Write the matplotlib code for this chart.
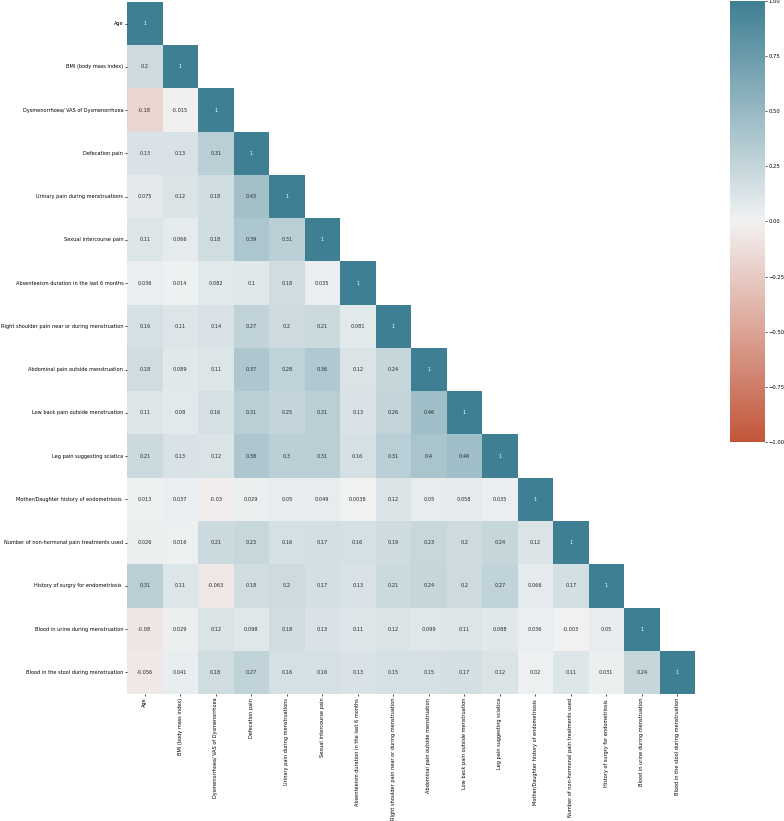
import numpy as np
import matplotlib
matplotlib.use("Agg")
import matplotlib.pyplot as plt
import seaborn as sns

labels = [
    "Age",
    "BMI (body mass index)",
    "Dysmenorrhoea/ VAS of Dysmenorrhoea",
    "Defecation pain",
    "Urinary pain during menstruations",
    "Sexual intercourse pain",
    "Absenteeism duration in the last 6 months",
    "Right shoulder pain near or during menstruation",
    "Abdominal pain outside menstruation",
    "Low back pain outside menstruation",
    "Leg pain suggesting sciatica",
    "Mother/Daughter history of endometriosis ",
    "Number of non-hormonal pain treatments used",
    "History of surgry for endometriosis ",
    "Blood in urine during menstruation",
    "Blood in the stool during menstruation",
]

row_age = [1]
row_bmi = [0.2, 1]
row_dysm = [-0.18, -0.015, 1]
row_defec = [0.13, 0.13, 0.31, 1]
row_urin = [0.075, 0.12, 0.18, 0.43, 1]
row_sex = [0.11, 0.066, 0.18, 0.39, 0.31, 1]
row_abs = [0.036, 0.014, 0.082, 0.1, 0.18, 0.035, 1]
row_shoulder = [0.16, 0.11, 0.14, 0.27, 0.2, 0.21, 0.081, 1]
row_abdo = [0.18, 0.089, 0.11, 0.37, 0.28, 0.36, 0.12, 0.24, 1]
row_back = [0.11, 0.08, 0.16, 0.31, 0.25, 0.31, 0.13, 0.26, 0.46, 1]
row_leg = [0.21, 0.13, 0.12, 0.38, 0.3, 0.31, 0.16, 0.31, 0.4, 0.46, 1]
row_mother = [0.013, 0.037, -0.03, 0.029, 0.05, 0.049, 0.0038, 0.12, 0.05, 0.058, 0.035, 1]
row_treat = [0.026, 0.016, 0.21, 0.23, 0.16, 0.17, 0.16, 0.19, 0.23, 0.2, 0.24, 0.12, 1]
row_surg = [0.31, 0.11, -0.063, 0.18, 0.2, 0.17, 0.13, 0.21, 0.24, 0.2, 0.27, 0.066, 0.17, 1]
row_urine_blood = [-0.08, 0.029, 0.12, 0.098, 0.18, 0.13, 0.11, 0.12, 0.099, 0.11, 0.088, 0.036, -0.003, 0.05, 1]
row_stool_blood = [-0.056, 0.041, 0.18, 0.27, 0.16, 0.16, 0.13, 0.15, 0.15, 0.17, 0.12, 0.02, 0.11, 0.031, 0.24, 1]

rows = [row_age, row_bmi, row_dysm, row_defec, row_urin, row_sex, row_abs,
        row_shoulder, row_abdo, row_back, row_leg, row_mother, row_treat,
        row_surg, row_urine_blood, row_stool_blood]

cbar_ticks = [-1, -0.75, -0.5, -0.25, 0, 0.25, 0.5, 0.75, 1]

n = len(labels)
corr = np.zeros((n, n))
for i, r in enumerate(rows):
    for j, v in enumerate(r):
        corr[i, j] = v
        corr[j, i] = v
mask = np.triu(np.ones((n, n), dtype=bool), k=1)

W, H = 784, 821
fig = plt.figure(figsize=(W / 100, H / 100), dpi=100)
ax = fig.add_axes([127 / W, 1 - 694 / H, (695 - 127) / W, (694 - 2) / H])
cax = fig.add_axes([730 / W, 1 - 442 / H, (765 - 730) / W, (442 - 1) / H])

cmap = sns.diverging_palette(20, 220, as_cmap=True)
sns.heatmap(corr, mask=mask, cmap=cmap, vmin=-1, vmax=1, center=0,
            annot=True, annot_kws={"size": 3.6}, ax=ax, cbar_ax=cax,
            xticklabels=labels, yticklabels=labels)
ax.tick_params(axis="both", labelsize=3.6, length=1.5, width=0.5, pad=1.2)
ax.set_xticklabels(labels, rotation=90)
ax.set_yticklabels(labels, rotation=0)
cax.tick_params(labelsize=3.8, length=1.5, width=0.5, pad=1.2)
cax.set_yticks(cbar_ticks)
cax.set_yticklabels([f"{v:.2f}".replace("-", "\u2212") for v in cbar_ticks])

fig.savefig("out.png", dpi=100)
